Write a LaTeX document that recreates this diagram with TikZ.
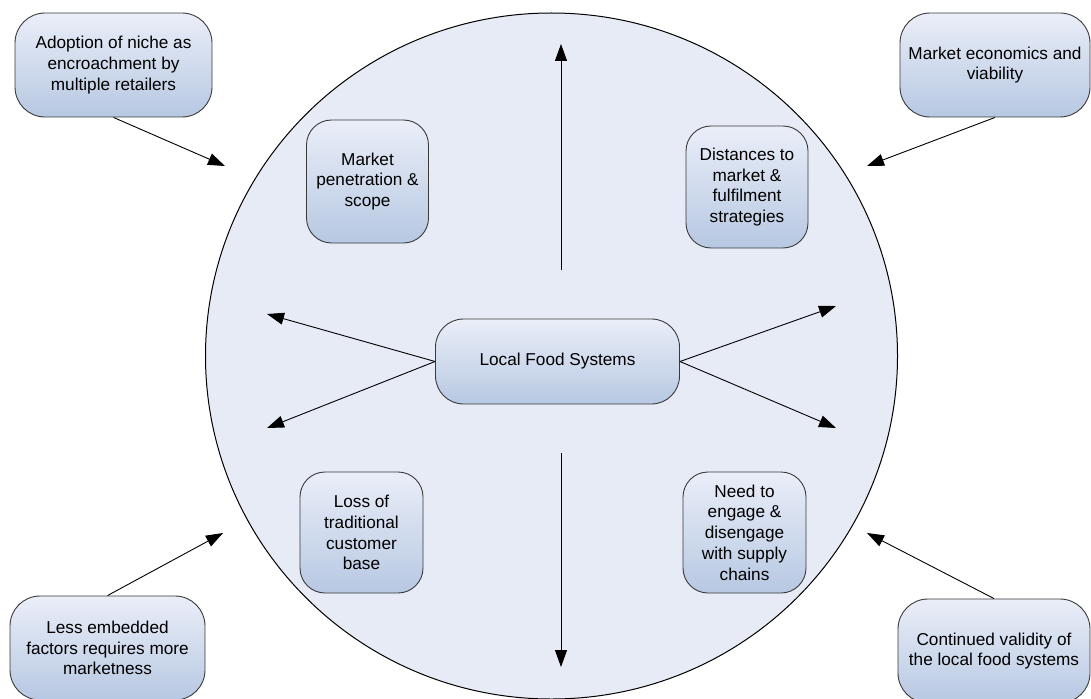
\documentclass[tikz,border=0pt]{standalone}
\usepackage{fontspec}
\setmainfont{Liberation Sans}
\usetikzlibrary{arrows.meta}

\definecolor{discfill}{HTML}{E7EBF5}
\definecolor{boxtop}{HTML}{EAEEF8}
\definecolor{boxbot}{HTML}{B7C8E2}
\definecolor{boxline}{HTML}{3A3A3A}

\tikzset{
  factor/.style={draw=boxline,line width=0.9pt,top color=boxtop,bottom color=boxbot,
    rounded corners=28pt,align=center,inner sep=2pt,
    font=\fontsize{17.2}{20.8}\selectfont},
  link/.style={line width=0.9pt,-{Triangle[length=17pt,width=12pt]}}
}

\begin{document}
\begin{tikzpicture}[x=1pt,y=-1pt]
            \useasboundingbox (0,0) rectangle (1091,698);
            \fill[discfill] (551.5,356) ellipse [x radius=346,y radius=343];
            \draw[line width=1pt] (551.5,356) ellipse [x radius=346,y radius=343];
            % centre
            \node[factor,minimum width=244pt,minimum height=85pt] (lfs) at (557.5,361.5) {Local Food Systems};
            % boxes inside the circle
            \node[factor,rounded corners=25pt,minimum width=122pt,minimum height=123pt] (pen) at (367.5,181.5) {Market\\penetration \&\\scope};
            \node[factor,rounded corners=25pt,minimum width=122pt,minimum height=122pt] (dist) at (747,187) {Distances to\\market \&\\fulfilment\\strategies};
            \node[factor,rounded corners=25pt,minimum width=123pt,minimum height=121pt] (loss) at (361.5,532.5) {Loss of\\traditional\\customer\\base};
            \node[factor,rounded corners=25pt,minimum width=123pt,minimum height=121pt] (need) at (744.5,532.5) {Need to\\engage \&\\disengage\\with supply\\chains};
            % boxes outside
            \node[factor,rounded corners=30pt,minimum width=197pt,minimum height=104pt] (adopt) at (113.5,65) {Adoption of niche as\\encroachment by\\multiple retailers};
            \node[factor,rounded corners=30pt,minimum width=190pt,minimum height=104pt] (econ) at (995,65) {Market economics and\\viability};
            \node[factor,rounded corners=30pt,minimum width=195pt,minimum height=104pt] (embed) at (107.5,648) {Less embedded\\factors requires more\\marketness};
            \node[factor,rounded corners=30pt,minimum width=192pt,minimum height=104pt] (valid) at (994,651) {Continued validity of\\the local food systems};
            % free ends
            \coordinate (upfrom) at (561,270);
            \coordinate (upto) at (561,44);
            \coordinate (dnfrom) at (561,453);
            \coordinate (dnto) at (561,667);
            \coordinate (lu) at (267,314);
            \coordinate (ld) at (267,428);
            \coordinate (ru) at (836,306);
            \coordinate (rd) at (836,428);
            \coordinate (tl) at (225,166);
            \coordinate (tr) at (867,166);
            \coordinate (bl) at (223,533);
            \coordinate (br) at (867,533);
            \draw[link] (upfrom) -- (upto);
            \draw[link] (dnfrom) -- (dnto);
            \draw[link] (lfs.west) -- (lu);
            \draw[link] (lfs.west) -- (ld);
            \draw[link] (lfs.east) -- (ru);
            \draw[link] (lfs.east) -- (rd);
            \draw[link] (adopt.south) -- (tl);
            \draw[link] (econ.south) -- (tr);
            \draw[link] (embed.north) -- (bl);
            \draw[link] (valid.north) -- (br);
        \end{tikzpicture}
\end{document}
